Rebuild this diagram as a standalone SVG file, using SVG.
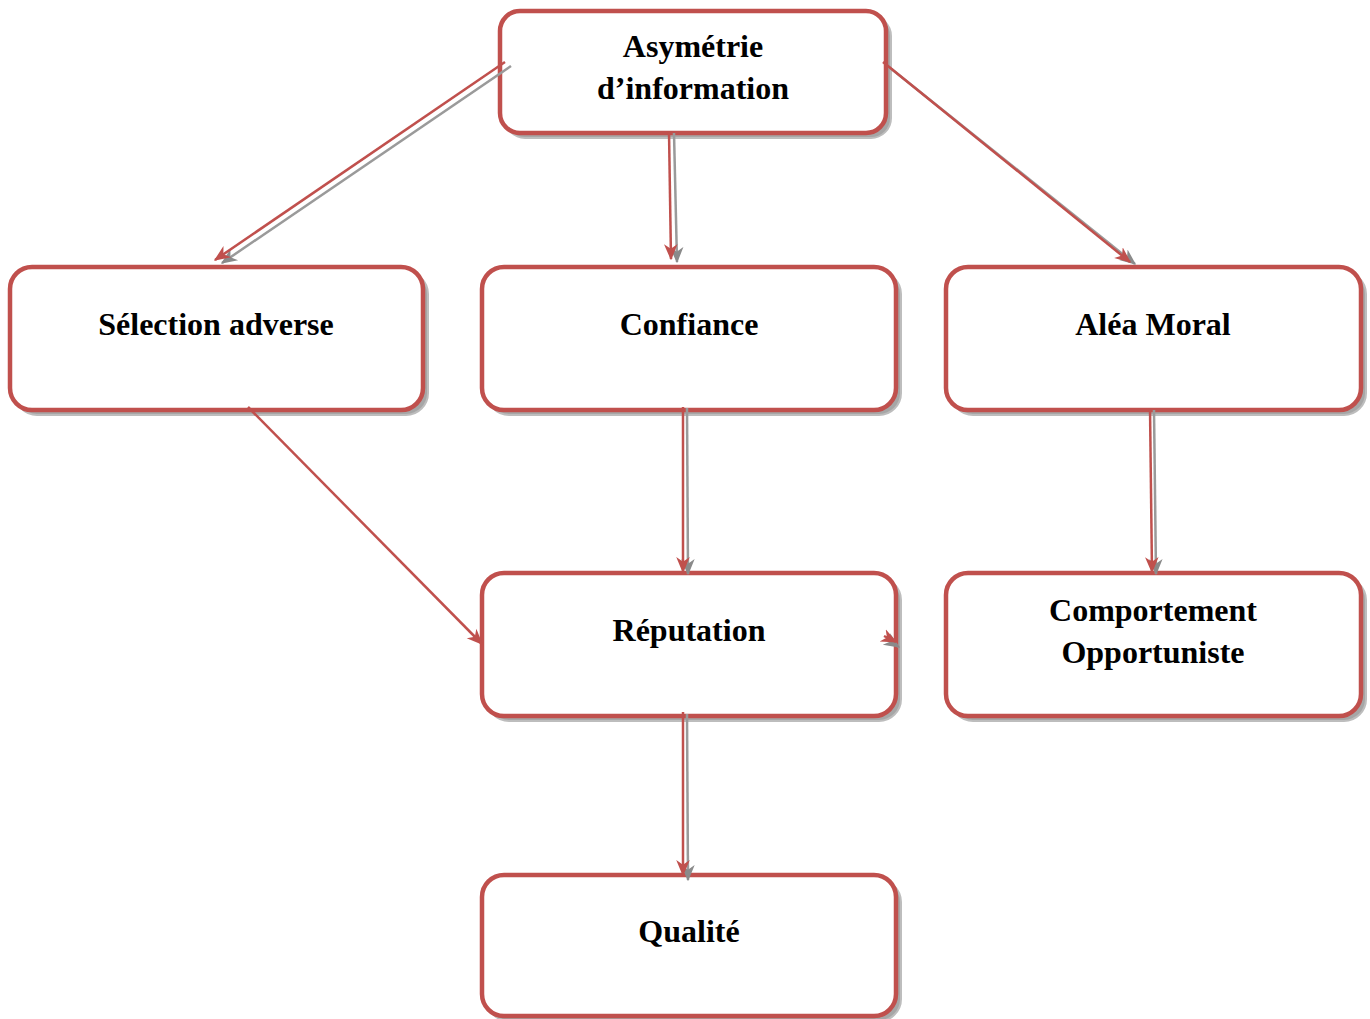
<svg xmlns="http://www.w3.org/2000/svg" width="1370" height="1019" viewBox="0 0 1370 1019">
  <style>
    .shadow { fill: #a6a6a6; stroke: #bdbdbd; stroke-width: 2; }
    .box { fill: #ffffff; stroke: #c0504d; stroke-width: 4.5; }
    .label { font-family: "Liberation Serif", "Times New Roman", serif; font-weight: bold; font-size: 32px; fill: #000; text-anchor: middle; }
    .link { stroke: #c0504d; stroke-width: 2.5; fill: none; marker-end: url(#headRed); }
    .linkShadow { stroke: #9a9a9a; stroke-width: 2.5; fill: none; marker-end: url(#headGray); }
  </style>
  <defs>
    <marker id="headRed" viewBox="0 0 12 10" refX="11" refY="5" markerWidth="6.5" markerHeight="6.5" orient="auto" markerUnits="strokeWidth">
      <path d="M0,0 L12,5 L0,10 L3.5,5 z" fill="#c0504d"/>
    </marker>
    <marker id="headGray" viewBox="0 0 12 10" refX="11" refY="5" markerWidth="6.5" markerHeight="6.5" orient="auto" markerUnits="strokeWidth">
      <path d="M0,0 L12,5 L0,10 L3.5,5 z" fill="#8a8a8a"/>
    </marker>
  </defs>

  <g id="node-asymetrie">
    <rect class="shadow" x="505" y="16" width="386" height="122" rx="20"/>
    <rect class="box" x="500" y="11" width="386" height="122" rx="20"/>
    <text class="label" x="693" y="57">Asymétrie</text>
    <text class="label" x="693" y="99">d’information</text>
  </g>

  <g id="node-selection">
    <rect class="shadow" x="15" y="272" width="413" height="143" rx="22"/>
    <rect class="box" x="10" y="267" width="413" height="143" rx="22"/>
    <text class="label" x="216" y="335">Sélection adverse</text>
  </g>

  <g id="node-confiance">
    <rect class="shadow" x="487" y="272" width="414" height="143" rx="22"/>
    <rect class="box" x="482" y="267" width="414" height="143" rx="22"/>
    <text class="label" x="689" y="335">Confiance</text>
  </g>

  <g id="node-alea">
    <rect class="shadow" x="951" y="272" width="415" height="143" rx="22"/>
    <rect class="box" x="946" y="267" width="415" height="143" rx="22"/>
    <text class="label" x="1153" y="335">Aléa Moral</text>
  </g>

  <g id="node-reputation">
    <rect class="shadow" x="487" y="578" width="414" height="143" rx="22"/>
    <rect class="box" x="482" y="573" width="414" height="143" rx="22"/>
    <text class="label" x="689" y="641">Réputation</text>
  </g>

  <g id="node-comportement">
    <rect class="shadow" x="951" y="578" width="415" height="143" rx="22"/>
    <rect class="box" x="946" y="573" width="415" height="143" rx="22"/>
    <text class="label" x="1153" y="621">Comportement</text>
    <text class="label" x="1153" y="663">Opportuniste</text>
  </g>

  <g id="node-qualite">
    <rect class="shadow" x="487" y="880" width="414" height="141" rx="22"/>
    <rect class="box" x="482" y="875" width="414" height="141" rx="22"/>
    <text class="label" x="689" y="942">Qualité</text>
  </g>

  <!-- connectors: gray shadow strokes first, red strokes on top -->
  <g id="connectors">
    <line class="linkShadow" x1="511" y1="66" x2="222" y2="263"/>
    <line class="link" x1="505" y1="62" x2="215" y2="260"/>

    <line class="linkShadow" x1="674" y1="133" x2="677" y2="262"/>
    <line class="link" x1="669" y1="131" x2="671" y2="259"/>

    <line class="linkShadow" x1="889" y1="67" x2="1135" y2="264"/>
    <line class="link" x1="883" y1="62" x2="1130" y2="262"/>

    <line class="link" x1="248" y1="407" x2="482" y2="644"/>

    <line class="linkShadow" x1="687" y1="408" x2="688" y2="574"/>
    <line class="link" x1="683" y1="407" x2="683" y2="572"/>

    <line class="linkShadow" x1="1154" y1="410" x2="1156" y2="574"/>
    <line class="link" x1="1150" y1="408" x2="1152" y2="572"/>

    <line class="linkShadow" x1="687" y1="714" x2="688" y2="880"/>
    <line class="link" x1="683" y1="712" x2="683" y2="875"/>

    <line class="linkShadow" x1="888" y1="640" x2="899" y2="647"/>
    <line class="link" x1="884" y1="636" x2="896" y2="642"/>
  </g>
</svg>
